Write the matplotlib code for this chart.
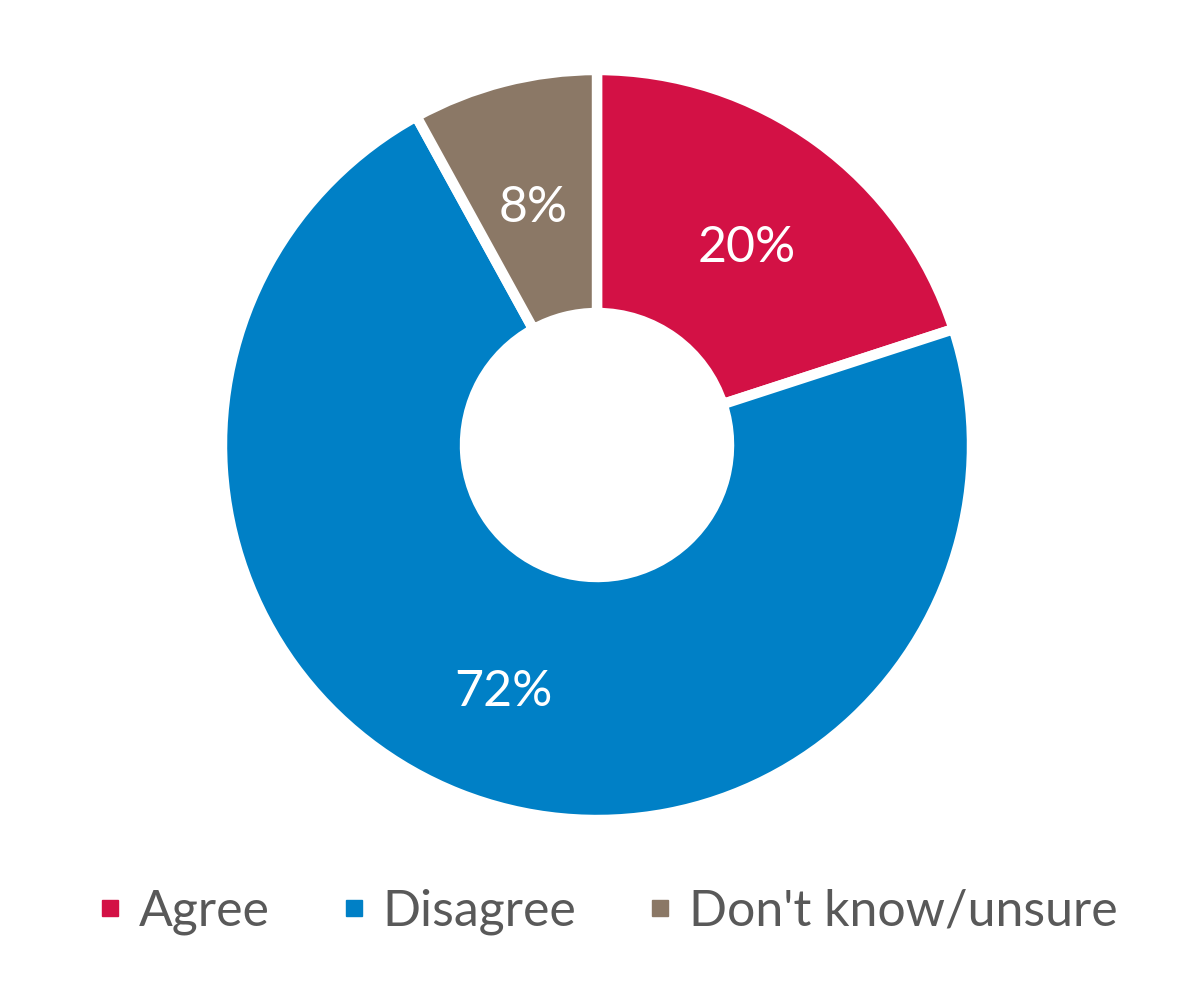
import matplotlib
matplotlib.use("Agg")
import matplotlib.pyplot as plt
from matplotlib.lines import Line2D

labels = ["Agree", "Disagree", "Don't know/unsure"]
values = [20, 72, 8]
colors = ["#D31145", "#0080C6", "#8B7866"]

plt.rcParams["font.family"] = ["Lato", "DejaVu Sans"]

fig = plt.figure(figsize=(12, 10), dpi=100)
fig.patch.set_facecolor("white")

# donut centred at about (597, 445) px; white edge eats ~5 px on each side
cx, cy, r = 597, 445, 375
ax = fig.add_axes([(cx - r) / 1200, (1000 - cy - r) / 1000, 2 * r / 1200, 2 * r / 1000])
wedges, texts, autotexts = ax.pie(
    values,
    colors=colors,
    startangle=90,
    counterclock=False,
    radius=1.0,
    autopct="%.0f%%",
    pctdistance=0.68,
    wedgeprops=dict(width=0.648, edgecolor="white", linewidth=7.5),
    textprops=dict(color="white", fontsize=36),
)
# nudge labels down a little so the digits sit centred
for t in autotexts:
    x, y = t.get_position()
    t.set_position((x, y - 0.026))

ax.set_xlim(-1, 1)
ax.set_ylim(-1, 1)
ax.set_aspect("equal")
ax.axis("off")

handles = [
    Line2D([0], [0], marker="s", linestyle="none", markersize=12,
           markerfacecolor=c, markeredgecolor=c)
    for c in colors
]
fig.legend(handles, labels, loc="center", bbox_to_anchor=(0.508, 0.088), ncol=3,
           frameon=False, fontsize=36, labelcolor="#595959",
           handletextpad=0.4, columnspacing=1.5, handlelength=0.35)

fig.savefig("out.png", dpi=100, facecolor="white")
